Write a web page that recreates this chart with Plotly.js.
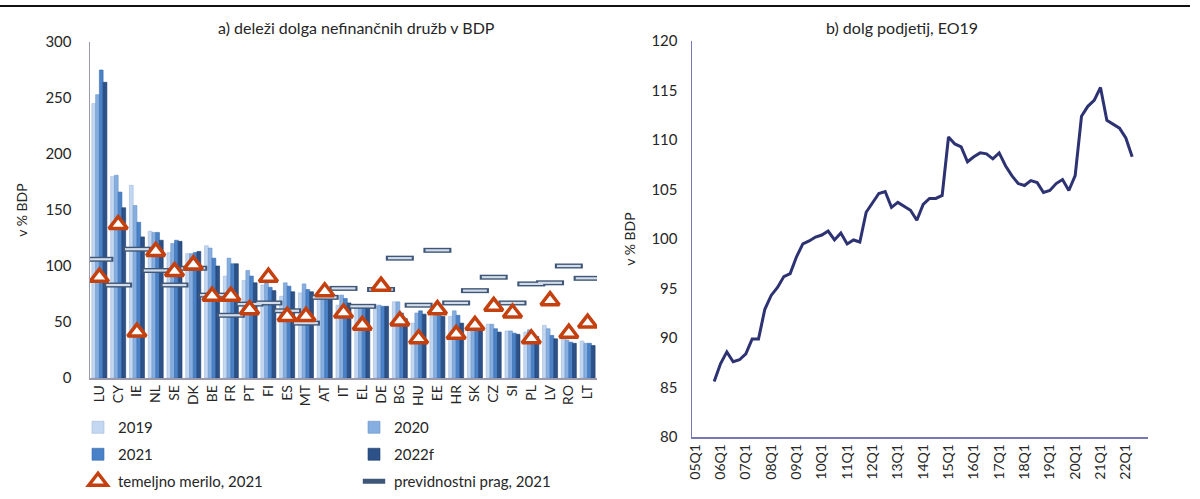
<!DOCTYPE html>
<html>
<head>
<meta charset="utf-8">
<script src="https://cdn.plot.ly/plotly-3.0.1.min.js"></script>
<style>html,body{margin:0;padding:0;background:#fff;}#chart{width:1200px;height:499px;}</style>
</head>
<body>
<div id="chart"></div>
<script>
// ---- panel a) data ----
const countries = ["LU","CY","IE","NL","SE","DK","BE","FR","PT","FI","ES","MT","AT","IT","EL","DE","BG","HU","EE","HR","SK","CZ","SI","PL","LV","RO","LT"];
const debt2019  = [245,180,172,131,112,111,118, 91, 87, 83, 73, 76, 74, 65, 64, 64, 68, 49, 55, 55, 48, 48, 42, 41, 47, 35, 33];
const debt2020  = [253,181,154,130,120,111,116,107, 96, 85, 85, 84, 74, 74, 65, 65, 68, 58, 56, 60, 49, 48, 42, 43, 44, 34, 31];
const debt2021  = [275,166,139,130,123,112,107,102, 91, 81, 82, 79, 73, 71, 64, 64, 58, 60, 56, 56, 47, 44, 40, 39, 38, 32, 31];
const debt2022f = [264,152,126,123,122,113,100,102, 85, 78, 77, 77, 73, 67, 63, 64, 53, 57, 55, 49, 44, 41, 39, 37, 35, 31, 29];
const benchmark2021 = [ 90,137, 41,113, 95,101, 73, 73, 61, 90, 55, 55, 77, 58, 47, 82, 51, 35, 61, 39, 47, 64, 58, 35, 69, 40, 49];
const threshold2021 = [106, 83,115, 96, 83, 98, 74, 56, 66, 67, 60, 49, 72, 80, 64, 79,107, 65,114, 67, 78, 90, 67, 84, 85,100, 89];

// ---- panel b) data ----
const quarters = ["05Q1","05Q2","05Q3","05Q4","06Q1","06Q2","06Q3","06Q4","07Q1","07Q2","07Q3","07Q4",
  "08Q1","08Q2","08Q3","08Q4","09Q1","09Q2","09Q3","09Q4","10Q1","10Q2","10Q3","10Q4",
  "11Q1","11Q2","11Q3","11Q4","12Q1","12Q2","12Q3","12Q4","13Q1","13Q2","13Q3","13Q4",
  "14Q1","14Q2","14Q3","14Q4","15Q1","15Q2","15Q3","15Q4","16Q1","16Q2","16Q3","16Q4",
  "17Q1","17Q2","17Q3","17Q4","18Q1","18Q2","18Q3","18Q4","19Q1","19Q2","19Q3","19Q4",
  "20Q1","20Q2","20Q3","20Q4","21Q1","21Q2","21Q3","21Q4","22Q1","22Q2","22Q3","22Q4"];
const corpDebt = [null,null,null,85.6,87.4,88.6,87.6,87.8,88.4,89.9,89.9,92.9,
  94.3,95.1,96.2,96.5,98.2,99.5,99.8,100.2,100.4,100.8,99.9,100.6,
  99.5,99.9,99.7,102.7,103.7,104.6,104.8,103.2,103.7,103.3,102.9,101.9,
  103.5,104.1,104.1,104.4,110.3,109.6,109.3,107.8,108.3,108.7,108.6,108.1,
  108.7,107.4,106.4,105.6,105.4,105.9,105.7,104.7,104.9,105.6,106.0,104.9,
  106.4,112.4,113.4,114.0,115.3,112.0,111.6,111.2,110.2,108.3,null,null];

const FONT = "Lato, 'Open Sans', 'DejaVu Sans', sans-serif";
const TXT = "#262626";

function barTrace(name, y, color, edge, legend, group){
  return {type:"bar", name:name, x:countries, y:y, xaxis:"x", yaxis:"y",
    marker:{color:color, line:{color:edge, width:0.6}},
    legend:legend, legendgroup:group, hoverinfo:"x+y+name"};
}

const traces = [
  barTrace("2019", debt2019, "#c3d7f0", "#9fb9dd", "legend", "g1"),
  barTrace("2020", debt2020, "#86aee0", "#6a93c9", "legend2", "g1"),
  barTrace("2021", debt2021, "#4a82c9", "#3a6bab", "legend", "g2"),
  barTrace("2022f", debt2022f, "#2c5289", "#1f3d6a", "legend2", "g2"),
  {type:"scatter", mode:"markers", name:"previdnostni prag, 2021", x:countries, y:threshold2021,
    xaxis:"x", yaxis:"y", legend:"legend2", legendgroup:"g3",
    marker:{symbol:"line-ew", size:20, line:{color:"#3e5677", width:5}}},
  {type:"scatter", mode:"markers", name:"prag", x:countries, y:threshold2021,
    xaxis:"x", yaxis:"y", showlegend:false, hoverinfo:"skip",
    marker:{symbol:"line-ew", size:17, line:{color:"#d3dce8", width:2.2}}},
  {type:"scatter", mode:"markers", name:"temeljno merilo, 2021", x:countries, y:benchmark2021,
    xaxis:"x", yaxis:"y", legend:"legend", legendgroup:"g3",
    marker:{symbol:"triangle-up", size:16, color:"#ffffff", line:{color:"#c4410f", width:3.5}}},
  {type:"scatter", mode:"lines", name:"dolg podjetij", x:quarters, y:corpDebt,
    xaxis:"x2", yaxis:"y2", showlegend:false,
    line:{color:"#2d3272", width:3}}
];

const H = 499;
const py = v => (H - v) / H;

const layout = {
  width:1200, height:499,
  margin:{l:0, r:0, t:0, b:0},
  paper_bgcolor:"#ffffff", plot_bgcolor:"#ffffff",
  font:{family:FONT, color:TXT, size:14},
  barmode:"group", bargap:0.2, bargroupgap:0,
  showlegend:true,
  xaxis:{domain:[90/1200, 597/1200], anchor:"y", type:"category",
    range:[-0.5, 26.5], showline:true, linecolor:"#9a9aac", linewidth:1.5,
    ticks:"", tickangle:-90, tickfont:{size:14, family:FONT, color:TXT}, showgrid:false},
  yaxis:{domain:[py(378), py(42)], anchor:"x", range:[0,300], dtick:50,
    showline:true, linecolor:"#9a9aac", linewidth:1.5, ticks:"", showgrid:false, zeroline:false,
    tickfont:{size:15, family:FONT, color:TXT}, ticklabelstandoff:14,
    title:{text:"v % BDP", font:{size:14, family:FONT, color:TXT}, standoff:14}},
  xaxis2:{domain:[692/1200, 1148/1200], anchor:"y2", type:"category",
    categoryarray:quarters, categoryorder:"array", range:[-0.5, 71.5],
    tickmode:"array", tickvals:quarters.filter((q,i)=>i%4===0),
    showline:true, linecolor:"#7878b4", linewidth:1.5, ticks:"", tickangle:-90,
    tickfont:{size:14, family:FONT, color:TXT}, showgrid:false},
  yaxis2:{domain:[py(437), py(41)], anchor:"x2", range:[80,120], dtick:5,
    showline:true, linecolor:"#7878b4", linewidth:1.5, ticks:"", showgrid:false, zeroline:false,
    tickfont:{size:15, family:FONT, color:TXT}, ticklabelstandoff:10,
    title:{text:"v % BDP", font:{size:14, family:FONT, color:TXT}, standoff:12}},
  legend:{x:78/1200, y:0.002, xanchor:"left", yanchor:"bottom", orientation:"v",
    font:{size:15, family:FONT, color:TXT}, tracegroupgap:4.5, bgcolor:"rgba(0,0,0,0)",
    itemclick:false, itemdoubleclick:false},
  legend2:{x:354/1200, y:0.002, xanchor:"left", yanchor:"bottom", orientation:"v",
    font:{size:15, family:FONT, color:TXT}, tracegroupgap:4.5, bgcolor:"rgba(0,0,0,0)",
    itemclick:false, itemdoubleclick:false},
  annotations:[
    {text:"a) deleži dolga nefinančnih družb v BDP", xref:"paper", yref:"paper",
      x:356/1200, y:py(28), xanchor:"center", yanchor:"middle", showarrow:false,
      font:{size:16, family:FONT, color:TXT}},
    {text:"b) dolg podjetij, EO19", xref:"paper", yref:"paper",
      x:902/1200, y:py(28), xanchor:"center", yanchor:"middle", showarrow:false,
      font:{size:16, family:FONT, color:TXT}}
  ],
  shapes:[
    {type:"line", xref:"paper", yref:"paper", x0:0, x1:1190/1200, y0:py(6), y1:py(6),
      line:{color:"#111111", width:2}}
  ]
};

Plotly.newPlot("chart", traces, layout, {displayModeBar:false, staticPlot:true});
</script>
</body>
</html>
